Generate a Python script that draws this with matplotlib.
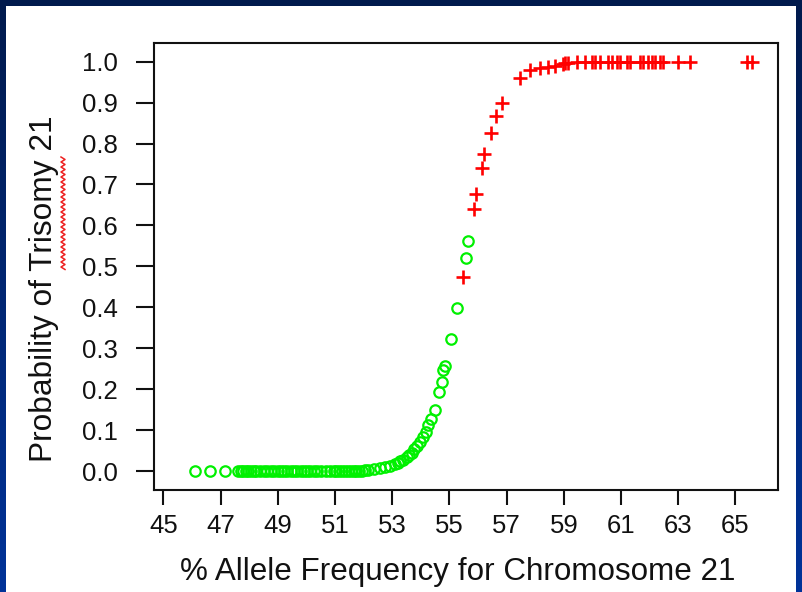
import numpy as np
import matplotlib
matplotlib.use("Agg")
import matplotlib.pyplot as plt

plt.rcParams['font.family'] = ['Liberation Sans', 'DejaVu Sans']

# green circles: called normal (x = % allele frequency, y = probability)
normal_x = [46.10, 46.63, 47.15, 47.60, 47.70, 47.78, 47.88, 47.97, 48.05, 48.15,
            48.25, 48.38, 48.50, 48.62, 48.75, 48.88, 49.00, 49.12, 49.22, 49.33,
            49.45, 49.55, 49.68, 49.80, 49.92, 50.02, 50.12, 50.25, 50.38, 50.52,
            50.68, 50.82, 50.95, 51.05, 51.15, 51.25, 51.35, 51.45, 51.55, 51.65,
            51.75, 51.85, 51.95, 52.05, 52.15, 52.35, 52.57, 52.75, 52.92, 53.09,
            53.20, 53.27, 53.38, 53.51, 53.60, 53.68, 53.76, 53.87, 53.97, 54.08,
            54.18, 54.25, 54.37, 54.49, 54.63, 54.74, 54.77, 54.84, 55.05, 55.26,
            55.58, 55.65]
normal_y = [0.000, 0.000, 0.000, 0.000, 0.000, 0.000, 0.000, 0.000, 0.000, 0.000,
            0.000, 0.000, 0.000, 0.000, 0.000, 0.000, 0.000, 0.000, 0.000, 0.000,
            0.000, 0.000, 0.000, 0.000, 0.000, 0.000, 0.000, 0.000, 0.000, 0.000,
            0.000, 0.000, 0.000, 0.000, 0.000, 0.000, 0.000, 0.000, 0.000, 0.001,
            0.001, 0.001, 0.001, 0.002, 0.003, 0.005, 0.007, 0.009, 0.012, 0.018,
            0.020, 0.024, 0.028, 0.034, 0.038, 0.045, 0.054, 0.062, 0.071, 0.084,
            0.095, 0.112, 0.128, 0.149, 0.193, 0.217, 0.247, 0.257, 0.323, 0.398,
            0.520, 0.562]

# red pluses: called trisomy 21
trisomy_x = [55.47, 55.86, 55.93, 56.14, 56.21, 56.45, 56.63, 56.83, 57.46, 57.81,
             58.16, 58.44, 58.69, 58.97, 59.04, 59.14, 59.46, 59.74, 59.98, 60.09,
             60.26, 60.54, 60.68, 60.86, 60.96, 61.21, 61.31, 61.66, 61.77, 61.94,
             62.08, 62.19, 62.36, 62.47, 62.99, 63.41, 65.40, 65.58]
trisomy_y = [0.474, 0.640, 0.677, 0.740, 0.775, 0.826, 0.867, 0.899, 0.960, 0.980,
             0.985, 0.987, 0.990, 0.995, 0.997, 0.998, 0.999, 0.999, 1.000, 1.000,
             1.000, 1.000, 1.000, 1.000, 1.000, 1.000, 1.000, 1.000, 1.000, 1.000,
             1.000, 1.000, 1.000, 1.000, 1.000, 1.000, 1.000, 1.000]

x_ticks = [45, 47, 49, 51, 53, 55, 57, 59, 61, 63, 65]
y_ticks = [0.0, 0.1, 0.2, 0.3, 0.4, 0.5, 0.6, 0.7, 0.8, 0.9, 1.0]

W, H = 802, 592
fig = plt.figure(figsize=(W / 100, H / 100), dpi=100)

# slide background: dark blue gradient with white panel
bg = fig.add_axes([0, 0, 1, 1])
grad = np.linspace(0, 1, 256).reshape(-1, 1)
bg.imshow(grad, aspect='auto', extent=[0, 1, 0, 1], origin='lower',
          cmap=matplotlib.colors.LinearSegmentedColormap.from_list(
              'slide', ['#003399', '#001a4d']))
bg.add_patch(plt.Rectangle((6 / W, 0), (796 - 6) / W, (H - 6) / H,
                           facecolor='white', edgecolor='none'))
bg.set_xlim(0, 1)
bg.set_ylim(0, 1)
bg.axis('off')

ax = fig.add_axes([154 / W, (H - 490) / H, (778 - 154) / W, (490 - 43) / H])
ax.plot(normal_x, normal_y, linestyle='none', marker='o', markersize=7.5,
        markerfacecolor='none', markeredgecolor='#00f000', markeredgewidth=1.6)
ax.plot(trisomy_x, trisomy_y, linestyle='none', marker='+', markersize=9.5,
        color='#ff0000', markeredgewidth=1.9)

ax.set_xlim(44.67, 66.49)
ax.set_ylim(-0.0464, 1.0457)
ax.set_xticks(x_ticks)
ax.set_xticklabels([str(v) for v in x_ticks])
ax.set_yticks(y_ticks)
ax.set_yticklabels([f'{v:.1f}' for v in y_ticks])
ax.tick_params(axis='x', length=11, width=1.5, pad=6, labelsize=18.5, colors='#111111')
ax.tick_params(axis='y', length=13, width=1.5, pad=13, labelsize=18.5, colors='#111111')
for s in ax.spines.values():
    s.set_linewidth(1.5)
    s.set_color('#111111')

ax.set_xlabel('% Allele Frequency for Chromosome 21', fontsize=22.6, color='#111111')
ax.xaxis.set_label_coords(0.487, -0.15)
ax.set_ylabel('Probability of Trisomy 21', fontsize=22.8, color='#111111')
ax.yaxis.set_label_coords(-0.152, 0.45)

# spell-check squiggle under "Trisomy"
yy = np.arange(157, 270, 2.5)
xx = 63 + 2.0 * np.where(np.arange(len(yy)) % 2 == 0, -1, 1)
fig.add_artist(matplotlib.lines.Line2D(xx / W, 1 - yy / H, color='#ee2020',
                                       linewidth=1.1))

fig.savefig('out.png', dpi=100)
